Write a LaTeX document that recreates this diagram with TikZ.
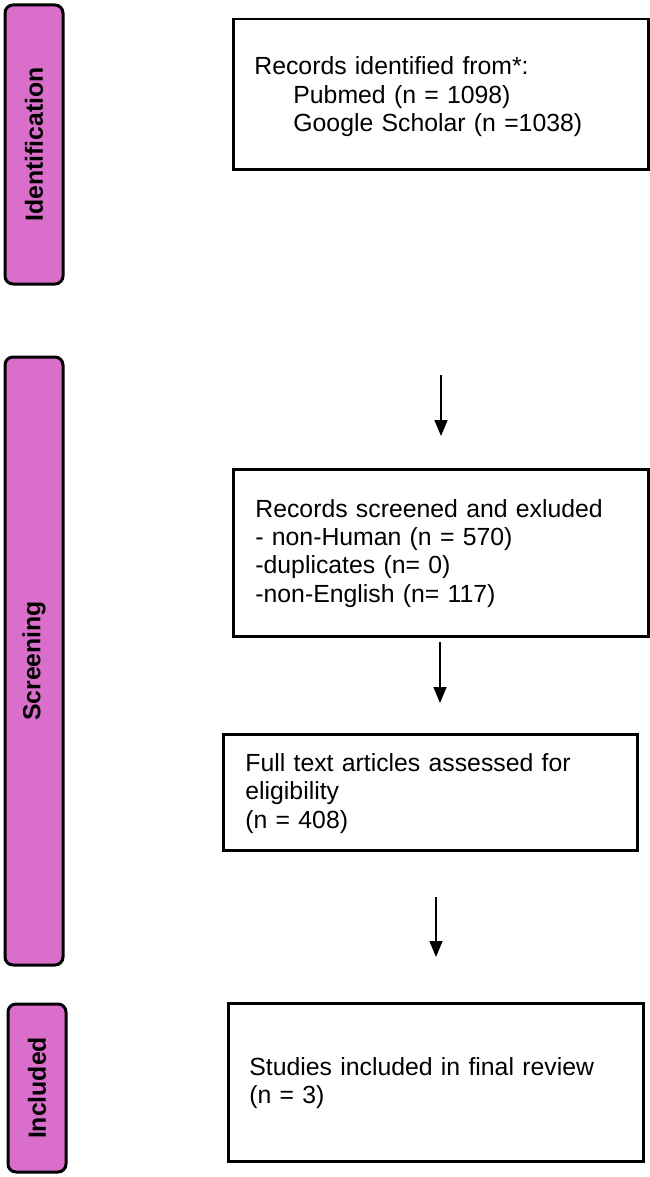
\documentclass[tikz,border=0pt]{standalone}
\usepackage{fontspec}
\setmainfont{Liberation Sans}
\usetikzlibrary{arrows.meta}
\definecolor{barfill}{RGB}{217,110,203}
\begin{document}
\begin{tikzpicture}[x=0.5pt,y=-0.5pt,
  barbox/.style={draw=black, line width=1.5pt, fill=barfill, rounded corners=4pt,
    minimum height=29pt, inner sep=0pt, rotate=90,
    font={\fontsize{12.4}{14.2}\selectfont\bfseries}},
  stagebox/.style={draw=black, line width=1.25pt, anchor=north west, inner sep=0pt},
  boxtext/.style={anchor=base west, inner sep=0pt, text width=195pt, align=left,
    font={\fontsize{12.4}{14.2}\selectfont}},
  flow/.style={line width=0.75pt, -{Triangle[length=8pt,width=6.5pt]}}]
\useasboundingbox (0,0) rectangle (649,1177);

% stage bars
\node[barbox, minimum width=139.5pt] (idbar) at (34,144.5) {Identification};
\node[barbox, minimum width=304pt] (scbar) at (34,661) {Screening};
\node[barbox, minimum width=84pt] (inbar) at (37,1088) {Included};

% boxes
\node[stagebox, minimum width=207.5pt, minimum height=75pt] (b1) at (232,18) {};
\node[stagebox, minimum width=207.5pt, minimum height=83.5pt] (b2) at (232,468) {};
\node[stagebox, minimum width=207pt, minimum height=58pt] (b3) at (222,733) {};
\node[stagebox, minimum width=207.5pt, minimum height=79pt] (b4) at (227,1002) {};

% texts
\node[boxtext] (t1) at (254,75) {Records identified from*:\\
  \hspace*{19.5pt}Pubmed (n = 1098)\\
  \hspace*{19.5pt}Google Scholar (n =1038)};
\node[boxtext] (t2) at (255,517) {Records screened and exluded\\
  - non-Human (n = 570)\\
  -duplicates (n= 0)\\
  -non-English (n= 117)};
\node[boxtext] (t3) at (245,771.5) {Full text articles assessed for\\
  eligibility\\
  (n = 408)};
\node[boxtext] (t4) at (249,1075.5) {Studies included in final review\\
  (n = 3)};

% arrows
\coordinate (a1s) at (441,375); \coordinate (a1e) at (441,436);
\coordinate (a2s) at (440,642); \coordinate (a2e) at (440,703);
\coordinate (a3s) at (436,897); \coordinate (a3e) at (436,957);
\draw[flow] (a1s) -- (a1e);
\draw[flow] (a2s) -- (a2e);
\draw[flow] (a3s) -- (a3e);
\end{tikzpicture}
\end{document}
